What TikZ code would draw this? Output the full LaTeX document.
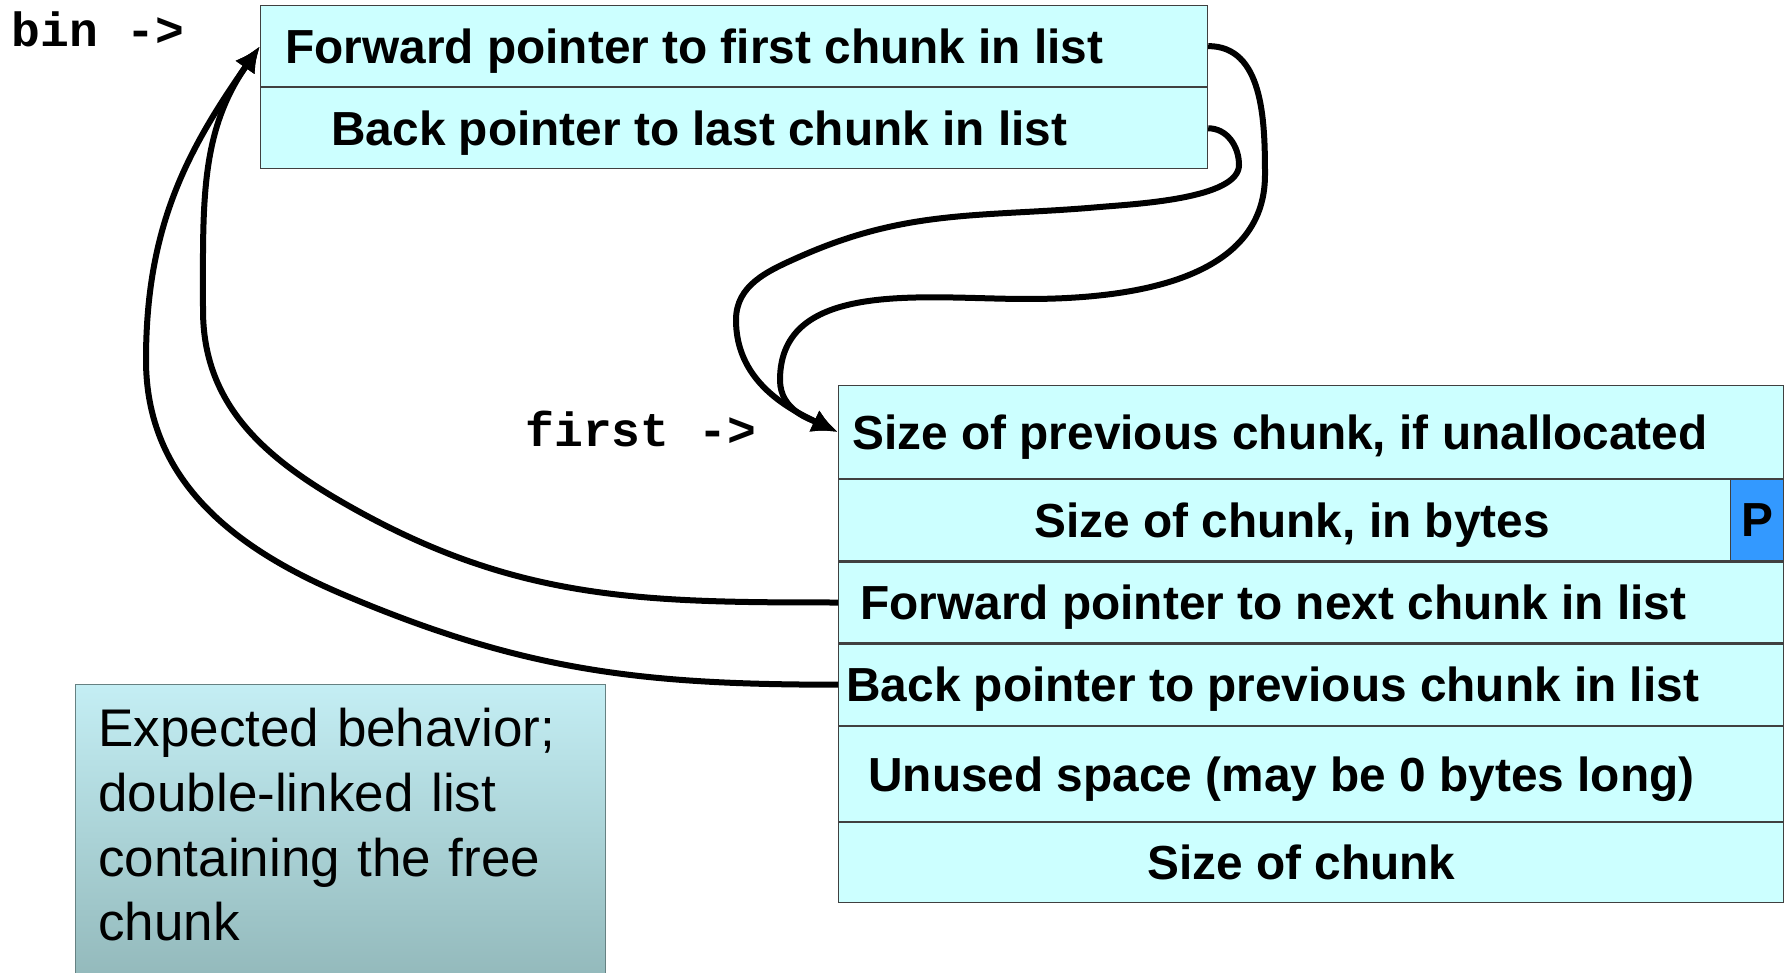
\documentclass[tikz,border=0pt]{standalone}
\usepackage{fontspec}
\setmainfont{Liberation Sans}
\setmonofont{Liberation Mono}
\usetikzlibrary{positioning,arrows.meta}

\definecolor{cellcyan}{RGB}{204,255,255}
\definecolor{pblue}{RGB}{51,153,255}
\definecolor{notetop}{RGB}{196,238,244}
\definecolor{notebot}{RGB}{146,184,186}

\tikzset{
  cell/.style={draw=black!75, line width=0.6pt, fill=cellcyan,
    minimum width=#1, minimum height=40.5pt, inner sep=0pt},
  cell/.default=472.5pt,
  lbl/.style={font=\fontsize{23.9}{28}\selectfont\bfseries, inner sep=0pt,
    text height=17.2pt, text depth=0pt},
  ptr/.style={font=\fontsize{24}{28}\selectfont\ttfamily\bfseries,
    inner sep=0pt, anchor=base west},
  note/.style={top color=notetop, bottom color=notebot, draw=notebot!70!black,
    line width=0.6pt, minimum width=265pt, minimum height=150pt, inner sep=0pt},
  notetext/.style={font=\fontsize{26.5}{32.3}\selectfont, align=left,
    inner sep=0pt, text width=250pt},
  link/.style={line width=3pt, ->},
}

\begin{document}
\begin{tikzpicture}[x=0.5pt, y=0.5pt, >={Latex[length=13pt,width=12pt]}]
  \useasboundingbox (0,0) rectangle (1790,-973);

  % the bin: head of the free list
  \node[cell=473.5pt, anchor=north west] (binfd) at (260,-5) {};
  \node[cell=473.5pt, below=0pt of binfd] (binbk) {};
  \node[lbl, right=12.5pt of binfd.west] (t-binfd) {Forward pointer to first chunk in list};
  \node[lbl, right=35.5pt of binbk.west] (t-binbk) {Back pointer to last chunk in list};
  \node[ptr] (binlbl) at (11,-47) {bin ->};

  % the free chunk
  \node[cell, minimum height=46.5pt, anchor=north west] (prev) at (838,-385) {};
  \node[cell, below=0pt of prev] (size) {};
  \node[cell, below=0pt of size] (fd) {};
  \node[cell, below=0pt of fd] (bk) {};
  \node[cell, minimum height=47.5pt, below=0pt of bk] (unused) {};
  \node[cell, minimum height=40pt, below=0pt of unused] (foot) {};
  \node[cell=26.5pt, fill=pblue, anchor=east, font=\fontsize{23.9}{28}\selectfont\bfseries]
    (pbit) at (size.east) {P};

  \node[lbl, right=7pt of prev.west] (t-prev) {Size of previous chunk, if unallocated};
  \node[lbl, right=98pt of size.west] (t-size) {Size of chunk, in bytes};
  \node[lbl, right=11pt of fd.west] (t-fd) {Forward pointer to next chunk in list};
  \node[lbl, right=4pt of bk.west] (t-bk) {Back pointer to previous chunk in list};
  \node[lbl, right=15pt of unused.west] (t-unused) {Unused space (may be 0 bytes long)};
  \node[lbl, right=154.5pt of foot.west] (t-foot) {Size of chunk};
  \node[ptr] (firstlbl) at (525,-446) {first ->};

  % note
  \node[note, anchor=north west] (note) at (75,-684) {};
  \node[notetext, below right=12pt and 11.5pt of note.north west] (t-note)
    {Expected behavior;\\ double-linked list\\ containing the free\\ chunk};

  % links
  \draw[link] (binfd.east) to[out=0,in=90] (1265,-175) to[out=-90,in=0] (1027,-299)
    to[out=180,in=90] (780,-380) to[out=-90,in=155] (prev.west);
  \draw[link] (binbk.east) to[out=0,in=90] (1239,-165)
    to[out=-90,in=5,looseness=0.6] (1100,-207) to[out=185,in=24] (799,-257)
    to[out=204,in=90] (736,-320) to[out=-90,in=155] (prev.west);
  \draw[link] (fd.west) to[out=180,in=-30] (342,-502) to[out=150,in=-90] (203,-310)
    to[out=90,in=235] (binfd.west);
  \draw[link] (bk.west) to[out=180,in=-23] (342,-594) to[out=157,in=-90] (146,-360)
    to[out=90,in=235] (binfd.west);
\end{tikzpicture}
\end{document}
